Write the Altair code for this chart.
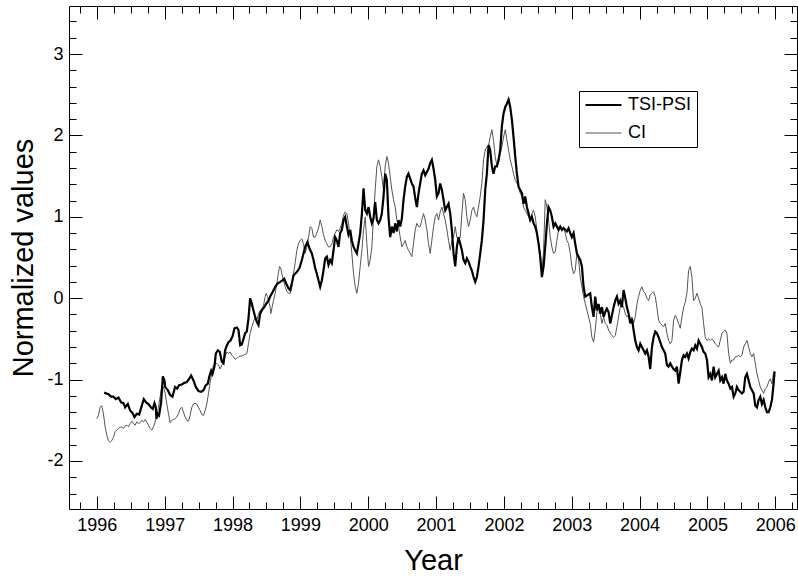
import altair as alt
import pandas as pd

# ---------------- data ----------------
tsi_year = [
    1996.108, 1996.171, 1996.211, 1996.245, 1996.280, 1996.319, 1996.358, 1996.393, 1996.417, 1996.457,
    1996.491, 1996.525, 1996.555, 1996.589, 1996.624, 1996.663, 1996.692, 1996.727, 1996.761, 1996.796,
    1996.825, 1996.850, 1996.869, 1996.879, 1996.899, 1996.918, 1996.948, 1996.973, 1996.997, 1997.007,
    1997.046, 1997.081, 1997.115, 1997.154, 1997.184, 1997.213, 1997.253, 1997.292, 1997.326, 1997.361,
    1997.390, 1997.425, 1997.459, 1997.498, 1997.538, 1997.572, 1997.606, 1997.636, 1997.656, 1997.685,
    1997.705, 1997.734, 1997.754, 1997.783, 1997.813, 1997.842, 1997.867, 1997.891, 1997.916, 1997.941,
    1997.970, 1998.000, 1998.029, 1998.064, 1998.088, 1998.113, 1998.137, 1998.162, 1998.186, 1998.211,
    1998.235,
    1998.260, 1998.285, 1998.309, 1998.334, 1998.358, 1998.383, 1998.407, 1998.432, 1998.467, 1998.496,
    1998.530, 1998.555, 1998.594, 1998.629, 1998.663, 1998.702, 1998.737, 1998.761, 1998.791, 1998.825,
    1998.850, 1998.874, 1998.899, 1998.923, 1998.948, 1998.987, 1999.022, 1999.046, 1999.071, 1999.105,
    1999.135, 1999.169, 1999.194, 1999.218, 1999.243, 1999.267, 1999.292, 1999.317, 1999.341, 1999.366,
    1999.390, 1999.415, 1999.439, 1999.464, 1999.489, 1999.513, 1999.538, 1999.562, 1999.587, 1999.612,
    1999.636, 1999.661, 1999.685, 1999.710, 1999.735, 1999.759, 1999.784, 1999.808, 1999.833, 1999.857,
    1999.882, 1999.907, 1999.931, 1999.956, 1999.980, 2000.005, 2000.029, 2000.054, 2000.078, 2000.103,
    2000.128, 2000.152, 2000.177, 2000.201, 2000.226, 2000.250, 2000.275, 2000.299, 2000.324, 2000.349,
    2000.373, 2000.398, 2000.422, 2000.447, 2000.472, 2000.496, 2000.521, 2000.545, 2000.570, 2000.594,
    2000.619, 2000.643, 2000.668, 2000.693, 2000.717, 2000.742,
    2000.766, 2000.791, 2000.815, 2000.840, 2000.865, 2000.889, 2000.914, 2000.938, 2000.963, 2000.988,
    2001.012, 2001.037, 2001.061, 2001.086, 2001.110, 2001.135, 2001.160, 2001.184, 2001.209, 2001.233,
    2001.258, 2001.282, 2001.307, 2001.332, 2001.356, 2001.381, 2001.405, 2001.430, 2001.454, 2001.479,
    2001.503, 2001.528, 2001.553, 2001.577, 2001.602, 2001.626, 2001.651, 2001.675, 2001.700, 2001.725,
    2001.749, 2001.774, 2001.798, 2001.823, 2001.847, 2001.872, 2001.897, 2001.921, 2001.946, 2001.970,
    2001.995, 2002.020, 2002.044, 2002.069, 2002.093, 2002.118, 2002.142, 2002.167, 2002.192, 2002.216,
    2002.241, 2002.265, 2002.290, 2002.314, 2002.339, 2002.364, 2002.388, 2002.413, 2002.437, 2002.462,
    2002.486, 2002.511, 2002.535, 2002.560, 2002.585, 2002.609, 2002.634, 2002.658, 2002.683, 2002.707,
    2002.732, 2002.757, 2002.781, 2002.806, 2002.830, 2002.855, 2002.879, 2002.904, 2002.928, 2002.953,
    2002.978, 2003.002, 2003.027, 2003.051, 2003.076, 2003.101, 2003.125, 2003.150, 2003.174, 2003.199,
    2003.272, 2003.297, 2003.322, 2003.346, 2003.371, 2003.395, 2003.420, 2003.445, 2003.469, 2003.494,
    2003.518, 2003.543, 2003.567, 2003.592, 2003.617, 2003.641, 2003.666, 2003.690, 2003.715, 2003.739,
    2003.764, 2003.789, 2003.813, 2003.838, 2003.862, 2003.887, 2003.911, 2003.936, 2003.961, 2003.985,
    2004.010, 2004.034, 2004.059, 2004.083, 2004.108, 2004.133, 2004.157, 2004.182, 2004.206, 2004.231,
    2004.255, 2004.280, 2004.305, 2004.329, 2004.354, 2004.378, 2004.403, 2004.427, 2004.452, 2004.477,
    2004.501, 2004.526, 2004.550, 2004.575, 2004.599, 2004.624, 2004.649, 2004.673, 2004.698, 2004.722,
    2004.747, 2004.771, 2004.796, 2004.821, 2004.845, 2004.870, 2004.894, 2004.919, 2004.943, 2004.968,
    2004.993, 2005.017, 2005.042, 2005.066, 2005.091, 2005.115, 2005.140, 2005.165, 2005.189, 2005.214,
    2005.238, 2005.263, 2005.287, 2005.312, 2005.337, 2005.361, 2005.386, 2005.410, 2005.435, 2005.459,
    2005.484, 2005.509, 2005.533, 2005.558, 2005.582, 2005.607, 2005.631, 2005.656, 2005.681, 2005.705,
    2005.730, 2005.754, 2005.779, 2005.803, 2005.828, 2005.853, 2005.877, 2005.902, 2005.926, 2005.951,
    2005.975, 2005.990,
]
tsi_value = [
    -1.16, -1.18, -1.21, -1.21, -1.24, -1.22, -1.28, -1.29, -1.34, -1.30,
    -1.38, -1.41, -1.46, -1.42, -1.43, -1.32, -1.24, -1.28, -1.30, -1.34,
    -1.36, -1.29, -1.34, -1.48, -1.42, -1.44, -1.28, -0.96, -1.01, -1.09,
    -1.13, -1.19, -1.21, -1.09, -1.11, -1.07, -1.06, -1.04, -1.03, -0.99,
    -0.95, -1.01, -1.09, -1.14, -1.15, -1.13, -1.07, -1.05, -0.97, -0.89,
    -0.93, -0.84, -0.68, -0.64, -0.66, -0.78, -0.80, -0.64, -0.58, -0.54,
    -0.52, -0.47, -0.37, -0.36, -0.39, -0.58, -0.57, -0.50, -0.43, -0.41,
    -0.25,
    -0.00, -0.07, -0.15, -0.23, -0.29, -0.33, -0.19, -0.15, -0.11, -0.07,
    -0.03, 0.02, 0.08, 0.14, 0.18, 0.20, 0.22, 0.24, 0.18, 0.12,
    0.10, 0.18, 0.28, 0.30, 0.32, 0.37, 0.47, 0.55, 0.63, 0.69,
    0.61, 0.55, 0.47, 0.37, 0.30, 0.22, 0.14, 0.22, 0.34, 0.49,
    0.51, 0.41, 0.47, 0.43, 0.59, 0.75, 0.71, 0.63, 0.80, 0.84,
    0.96, 1.00, 0.88, 0.78, 0.84, 0.71, 0.63, 0.59, 0.55, 0.67,
    0.80, 1.04, 1.35, 1.08, 1.04, 1.12, 1.00, 0.92, 0.98, 1.18,
    0.96, 0.92, 0.96, 1.04, 1.25, 1.53, 1.45, 1.00, 0.75, 0.88,
    0.80, 0.92, 0.82, 0.96, 0.88, 0.98, 1.21, 1.37, 1.49, 1.53,
    1.47, 1.41, 1.37, 1.23, 1.12, 1.29,
    1.41, 1.53, 1.57, 1.51, 1.55, 1.59, 1.66, 1.70, 1.59, 1.45,
    1.25, 1.29, 1.41, 1.33, 1.21, 1.08, 1.12, 1.16, 1.04, 0.84,
    0.55, 0.39, 0.63, 0.75, 0.67, 0.59, 0.47, 0.43, 0.49, 0.45,
    0.39, 0.34, 0.26, 0.20, 0.26, 0.39, 0.55, 0.71, 0.96, 1.33,
    1.53, 1.88, 1.82, 1.62, 1.53, 1.62, 1.62, 1.70, 1.82, 2.11,
    2.27, 2.35, 2.39, 2.44, 2.35, 2.19, 1.98, 1.74, 1.53, 1.37,
    1.33, 1.29, 1.16, 1.25, 1.12, 1.04, 0.96, 1.00, 0.92, 0.88,
    0.80, 0.67, 0.51, 0.26, 0.39, 0.63, 0.92, 1.12, 1.08, 1.00,
    0.88, 0.92, 0.88, 0.84, 0.88, 0.84, 0.86, 0.84, 0.82, 0.86,
    0.80, 0.75, 0.80, 0.67, 0.55, 0.51, 0.47, 0.39, 0.14, 0.02,
    0.06, -0.11, -0.23, 0.02, -0.15, -0.07, -0.19, -0.11, -0.23, -0.17,
    -0.13, -0.17, -0.31, -0.21, -0.11, -0.03, 0.02, -0.07, -0.03, -0.11,
    0.10, -0.00, -0.11, -0.19, -0.31, -0.25, -0.39, -0.52, -0.60, -0.64,
    -0.56, -0.60, -0.64, -0.68, -0.64, -0.72, -0.87, -0.60, -0.48, -0.41,
    -0.43, -0.48, -0.54, -0.60, -0.64, -0.68, -0.82, -0.84, -0.80, -0.84,
    -0.87, -0.89, -0.84, -1.05, -0.91, -0.76, -0.70, -0.72, -0.68, -0.74,
    -0.66, -0.62, -0.64, -0.58, -0.62, -0.52, -0.56, -0.60, -0.66, -0.68,
    -0.76, -0.97, -0.93, -1.01, -0.84, -0.97, -0.93, -0.89, -1.01, -0.97,
    -1.05, -0.93, -1.01, -1.05, -1.11, -1.09, -1.21, -1.17, -1.09, -1.13,
    -1.15, -1.17, -1.15, -0.97, -0.93, -1.01, -1.09, -1.13, -1.17, -1.32,
    -1.34, -1.25, -1.21, -1.30, -1.25, -1.34, -1.40, -1.40, -1.34, -1.25,
    -1.05, -0.90,
]

ci_year = [
    1996.000, 1996.024, 1996.049, 1996.073, 1996.098, 1996.122, 1996.147, 1996.171, 1996.196, 1996.221,
    1996.245, 1996.270, 1996.294, 1996.319, 1996.358, 1996.393, 1996.417, 1996.442, 1996.466, 1996.491,
    1996.516, 1996.540, 1996.565, 1996.589, 1996.614, 1996.638, 1996.663, 1996.688, 1996.712, 1996.737,
    1996.761, 1996.786, 1996.810, 1996.835, 1996.860, 1996.884, 1996.909, 1996.933, 1996.958, 1996.982,
    1997.007, 1997.032, 1997.056, 1997.081, 1997.105, 1997.130, 1997.154, 1997.179, 1997.203, 1997.228,
    1997.253, 1997.277, 1997.302, 1997.326, 1997.351, 1997.375, 1997.400, 1997.425, 1997.449, 1997.474,
    1997.498, 1997.523, 1997.548, 1997.572, 1997.597, 1997.621, 1997.646, 1997.670, 1997.695, 1997.719,
    1997.744, 1997.769, 1997.793, 1997.818, 1997.842, 1997.867, 1997.891, 1997.916, 1997.941, 1997.965,
    1997.990, 1998.014, 1998.039, 1998.064, 1998.088, 1998.113, 1998.137, 1998.162, 1998.186, 1998.211,
    1998.235,
    1998.260, 1998.285, 1998.309, 1998.334, 1998.358, 1998.383, 1998.407, 1998.432, 1998.457, 1998.481,
    1998.496, 1998.516, 1998.530, 1998.555, 1998.565, 1998.579, 1998.604, 1998.629, 1998.653, 1998.678,
    1998.693, 1998.712, 1998.727, 1998.751, 1998.776, 1998.801, 1998.825, 1998.850, 1998.874, 1998.899,
    1998.923, 1998.948, 1998.973, 1998.997, 1999.022, 1999.046, 1999.071, 1999.096, 1999.120, 1999.145,
    1999.169, 1999.194, 1999.218, 1999.243, 1999.267, 1999.292, 1999.317, 1999.341, 1999.366, 1999.390,
    1999.415, 1999.439, 1999.464, 1999.489, 1999.513, 1999.538, 1999.562, 1999.587, 1999.612, 1999.636,
    1999.661, 1999.685, 1999.710, 1999.735, 1999.759, 1999.784, 1999.808, 1999.833, 1999.857, 1999.882,
    1999.907, 1999.931, 1999.956, 1999.980, 2000.005, 2000.029, 2000.054, 2000.078, 2000.103, 2000.128,
    2000.152, 2000.177, 2000.201, 2000.226, 2000.250, 2000.275, 2000.299, 2000.324, 2000.349, 2000.373,
    2000.398, 2000.422, 2000.447, 2000.472, 2000.496, 2000.521, 2000.545, 2000.570, 2000.594, 2000.619,
    2000.643, 2000.668, 2000.693, 2000.717, 2000.742,
    2000.766, 2000.791, 2000.815, 2000.840, 2000.865, 2000.889, 2000.914, 2000.938, 2000.963, 2000.988,
    2001.012, 2001.037, 2001.061, 2001.086, 2001.110, 2001.135, 2001.160, 2001.184, 2001.209, 2001.233,
    2001.258, 2001.282, 2001.307, 2001.332, 2001.356, 2001.381, 2001.405, 2001.430, 2001.454, 2001.479,
    2001.503, 2001.528, 2001.553, 2001.577, 2001.602, 2001.626, 2001.651, 2001.675, 2001.700, 2001.725,
    2001.749, 2001.774, 2001.798, 2001.823, 2001.847, 2001.872, 2001.897, 2001.921, 2001.946, 2001.970,
    2001.995, 2002.020, 2002.044, 2002.069, 2002.093, 2002.118, 2002.142, 2002.167, 2002.192, 2002.216,
    2002.241, 2002.265, 2002.290, 2002.314, 2002.339, 2002.364, 2002.388, 2002.413, 2002.437, 2002.462,
    2002.486, 2002.511, 2002.535, 2002.560, 2002.585, 2002.609, 2002.634, 2002.658, 2002.683, 2002.707,
    2002.732, 2002.757, 2002.781, 2002.806, 2002.830, 2002.855, 2002.879, 2002.904, 2002.928, 2002.953,
    2002.978, 2003.002, 2003.027, 2003.051, 2003.076, 2003.101, 2003.125, 2003.150, 2003.174,
    2003.272, 2003.297, 2003.322, 2003.346, 2003.371, 2003.395, 2003.420, 2003.445, 2003.469, 2003.494,
    2003.518, 2003.543, 2003.567, 2003.592, 2003.617, 2003.641, 2003.666, 2003.690, 2003.715, 2003.739,
    2003.764, 2003.789, 2003.813, 2003.838, 2003.862, 2003.887, 2003.911, 2003.936, 2003.961, 2003.985,
    2004.010, 2004.034, 2004.059, 2004.083, 2004.108, 2004.133, 2004.157, 2004.182, 2004.206, 2004.231,
    2004.255, 2004.280, 2004.305, 2004.329, 2004.354, 2004.378, 2004.403, 2004.427, 2004.452, 2004.477,
    2004.501, 2004.526, 2004.550, 2004.575, 2004.599, 2004.624, 2004.649, 2004.673, 2004.698, 2004.722,
    2004.747, 2004.771, 2004.796, 2004.821, 2004.845, 2004.870, 2004.894, 2004.919, 2004.943, 2004.968,
    2004.993, 2005.017, 2005.042, 2005.066, 2005.091, 2005.115, 2005.140, 2005.165, 2005.189, 2005.214,
    2005.238, 2005.263, 2005.287, 2005.312, 2005.337, 2005.361, 2005.386, 2005.410, 2005.435, 2005.459,
    2005.484, 2005.509, 2005.533, 2005.558, 2005.582, 2005.607, 2005.631, 2005.656, 2005.681, 2005.705,
    2005.730, 2005.754, 2005.779, 2005.803, 2005.828, 2005.853, 2005.877, 2005.902, 2005.926, 2005.951,
    2005.975, 2005.990,
]
ci_value = [
    -1.48, -1.44, -1.34, -1.32, -1.42, -1.58, -1.68, -1.75, -1.77, -1.75,
    -1.71, -1.64, -1.62, -1.60, -1.58, -1.60, -1.57, -1.56, -1.58, -1.54,
    -1.51, -1.54, -1.56, -1.52, -1.54, -1.53, -1.50, -1.52, -1.49, -1.52,
    -1.56, -1.60, -1.62, -1.58, -1.52, -1.44, -1.34, -1.21, -1.09, -1.09,
    -1.17, -1.30, -1.42, -1.53, -1.50, -1.49, -1.48, -1.46, -1.42, -1.36,
    -1.34, -1.40, -1.46, -1.50, -1.51, -1.44, -1.34, -1.30, -1.29, -1.30,
    -1.34, -1.38, -1.43, -1.44, -1.38, -1.30, -1.17, -1.03, -0.93, -0.82,
    -0.80, -0.80, -0.82, -0.87, -0.82, -0.80, -0.72, -0.66, -0.68, -0.66,
    -0.70, -0.72, -0.75, -0.74, -0.72, -0.71, -0.71, -0.70, -0.69, -0.68,
    -0.56,
    -0.43, -0.35, -0.29, -0.23, -0.27, -0.19, -0.15, -0.13, -0.09, 0.02,
    0.06, 0.02, -0.03, -0.11, -0.19, -0.13, -0.03, 0.06, 0.18, 0.32,
    0.39, 0.37, 0.30, 0.22, 0.14, 0.08, 0.06, 0.06, 0.14, 0.30,
    0.43, 0.59, 0.67, 0.71, 0.73, 0.67, 0.55, 0.63, 0.75, 0.88,
    0.86, 0.75, 0.75, 0.80, 0.86, 0.96, 0.88, 0.78, 0.71, 0.67,
    0.63, 0.63, 0.67, 0.75, 0.80, 0.84, 0.82, 0.86, 0.92, 1.02,
    1.06, 1.04, 0.92, 0.75, 0.55, 0.30, 0.14, 0.06, 0.18, 0.39,
    0.59, 0.84, 1.00, 0.67, 0.39, 0.47, 0.63, 1.00, 1.33, 1.62,
    1.70, 1.62, 1.49, 1.33, 1.62, 1.74, 1.66, 1.49, 1.33, 1.21,
    1.12, 0.96, 0.88, 0.75, 0.63, 0.67, 0.71, 0.63, 0.59, 0.55,
    0.51, 0.67, 0.84, 0.92, 0.88,
    0.88, 0.96, 1.04, 0.96, 0.84, 0.67, 0.55, 0.71, 0.88, 1.00,
    1.04, 0.96, 1.06, 1.12, 1.04, 0.96, 0.84, 0.71, 0.59, 0.71,
    0.75, 0.88, 0.75, 0.71, 0.75, 1.04, 1.29, 1.21, 1.00, 0.88,
    0.96, 1.08, 1.12, 1.04, 1.00, 1.12, 1.25, 1.41, 1.70, 1.82,
    1.86, 1.88, 1.98, 2.07, 1.94, 1.74, 1.62, 1.66, 1.78, 1.86,
    1.98, 2.07, 1.94, 1.82, 1.70, 1.62, 1.53, 1.45, 1.41, 1.37,
    1.29, 1.25, 1.12, 1.08, 1.04, 1.00, 0.96, 1.04, 1.08, 1.00,
    0.84, 0.67, 0.55, 0.30, 0.59, 1.21, 1.12, 0.96, 0.75, 0.63,
    0.55, 0.57, 0.71, 0.84, 0.88, 0.84, 0.88, 0.80, 0.71, 0.67,
    0.55, 0.39, 0.30, 0.34, 0.55, 0.47, 0.26, 0.14, 0.02,
    -0.31, -0.48, -0.54, -0.39, -0.17, -0.11, -0.19, -0.31, -0.23, -0.31,
    -0.33, -0.39, -0.43, -0.46, -0.48, -0.46, -0.35, -0.23, -0.11, -0.07,
    -0.11, -0.19, -0.23, -0.21, -0.25, -0.23, -0.31, -0.23, -0.07, 0.02,
    0.10, 0.14, 0.08, 0.06, -0.00, -0.03, 0.04, 0.06, 0.08, 0.02,
    -0.11, -0.27, -0.31, -0.33, -0.35, -0.31, -0.43, -0.52, -0.56, -0.52,
    -0.27, -0.21, -0.25, -0.31, -0.37, -0.23, -0.11, -0.05, 0.06, 0.34,
    0.39, 0.26, -0.03, -0.00, 0.06, -0.00, -0.07, -0.11, -0.31, -0.48,
    -0.52, -0.50, -0.52, -0.50, -0.52, -0.56, -0.58, -0.60, -0.52, -0.43,
    -0.41, -0.39, -0.43, -0.68, -0.80, -0.76, -0.76, -0.72, -0.72, -0.70,
    -0.72, -0.70, -0.60, -0.56, -0.52, -0.60, -0.68, -0.72, -0.68, -0.80,
    -0.93, -1.01, -1.09, -1.13, -1.17, -1.11, -1.09, -1.03, -0.99, -1.05,
    -0.91, -1.00,
]

series_names = ["TSI-PSI", "CI"]
series_colors = ["#000000", "#555555"]
series_widths = [2.2, 1.0]

x_major = [1996, 1997, 1998, 1999, 2000, 2001, 2002, 2003, 2004, 2005, 2006]
x_minor = [1995.75, 1996.25, 1996.5, 1996.75, 1997.25, 1997.5, 1997.75, 1998.25, 1998.5, 1998.75,
           1999.25, 1999.5, 1999.75, 2000.25, 2000.5, 2000.75, 2001.25, 2001.5, 2001.75,
           2002.25, 2002.5, 2002.75, 2003.25, 2003.5, 2003.75, 2004.25, 2004.5, 2004.75,
           2005.25, 2005.5, 2005.75, 2006.25]
y_major = [-2, -1, 0, 1, 2, 3]
y_minor = [-2.4, -2.2, -1.8, -1.6, -1.4, -1.2, -0.8, -0.6, -0.4, -0.2, 0.2, 0.4, 0.6, 0.8,
           1.2, 1.4, 1.6, 1.8, 2.2, 2.4, 2.6, 2.8, 3.2, 3.4]

x_domain = [1995.59, 2006.32]
y_domain = [-2.59, 3.59]

# ---------------- chart ----------------
W, H = 728, 503
FONT = "Liberation Sans"

ci_df = pd.DataFrame({"year": ci_year, "value": ci_value, "series": "CI"})
tsi_df = pd.DataFrame({"year": tsi_year, "value": tsi_value, "series": "TSI-PSI"})
all_df = pd.concat([ci_df, tsi_df], ignore_index=True)

xscale = alt.Scale(domain=x_domain, nice=False, zero=False)
yscale = alt.Scale(domain=y_domain, nice=False, zero=False)

legend = alt.Legend(
    title=None, orient="none", legendX=510, legendY=85, direction="vertical",
    symbolType="stroke", symbolSize=1296, clipHeight=18, rowPadding=10,
    labelFontSize=18, labelFont=FONT, labelColor="black", labelOffset=5,
    padding=5, strokeColor="black", fillColor="white",
)
color_enc = alt.Color("series:N", scale=alt.Scale(domain=series_names, range=series_colors), legend=legend)
width_enc = alt.StrokeWidth("series:N", scale=alt.Scale(domain=series_names, range=series_widths), legend=legend)


def tick_axis(orient, values, size, offset):
    return alt.Axis(orient=orient, values=values, tickSize=size, offset=offset, labels=False,
                    ticks=True, domain=False, grid=False, title=None, tickColor="black", tickWidth=1)


x_label_axis = alt.Axis(orient="bottom", values=x_major, labelExpr="'' + datum.value", ticks=False,
                        tickSize=0, domain=False, grid=False, labelPadding=7, labelFontSize=18,
                        labelFont=FONT, labelColor="black", title="Year", titleFontSize=29,
                        titleFont=FONT, titleFontWeight="normal", titleColor="black",
                        titleX=W / 2, titleY=60, titleBaseline="alphabetic", titleAlign="center")
y_label_axis = alt.Axis(orient="left", values=y_major, labelExpr="'' + datum.value", ticks=False,
                        tickSize=0, domain=False, grid=False, labelPadding=6, labelFontSize=18,
                        labelFont=FONT, labelColor="black", title="Normalized values",
                        titleFontSize=29, titleFont=FONT, titleFontWeight="normal",
                        titleColor="black", titleX=-37, titleY=H / 2, titleBaseline="alphabetic",
                        titleAlign="center", titleAngle=270)

ci_line = alt.Chart(ci_df).mark_line(interpolate="linear").encode(
    x=alt.X("year:Q", scale=xscale, axis=x_label_axis),
    y=alt.Y("value:Q", scale=yscale, axis=y_label_axis),
    color=color_enc, strokeWidth=width_enc,
)
tsi_line = alt.Chart(tsi_df).mark_line(interpolate="linear").encode(
    x=alt.X("year:Q", scale=xscale, axis=tick_axis("top", x_major, 13, -H)),
    y=alt.Y("value:Q", scale=yscale, axis=tick_axis("right", y_major, 13, -W)),
    color=color_enc, strokeWidth=width_enc,
)


def ghost(xaxis, yaxis):
    return alt.Chart(all_df).mark_point(opacity=0).encode(
        x=alt.X("year:Q", scale=xscale, axis=xaxis),
        y=alt.Y("value:Q", scale=yscale, axis=yaxis),
    )


g1 = ghost(tick_axis("top", x_minor, 7, -H), tick_axis("right", y_minor, 7, -W))
g2 = ghost(tick_axis("bottom", x_major, 13, -H), tick_axis("left", y_major, 13, -W))
g3 = ghost(tick_axis("bottom", x_minor, 7, -H), tick_axis("left", y_minor, 7, -W))

chart = alt.layer(ci_line, tsi_line, g1, g2, g3).resolve_axis(
    x="independent", y="independent"
).properties(
    width=W, height=H,
    autosize=alt.AutoSizeParams(type="none"),
    padding={"left": 69, "top": 6, "right": 1, "bottom": 69},
    background="white",
).configure_view(stroke="black", strokeWidth=1).configure_axis(grid=False)

chart.save("out.html", embed_options={"renderer": "svg", "actions": False})
